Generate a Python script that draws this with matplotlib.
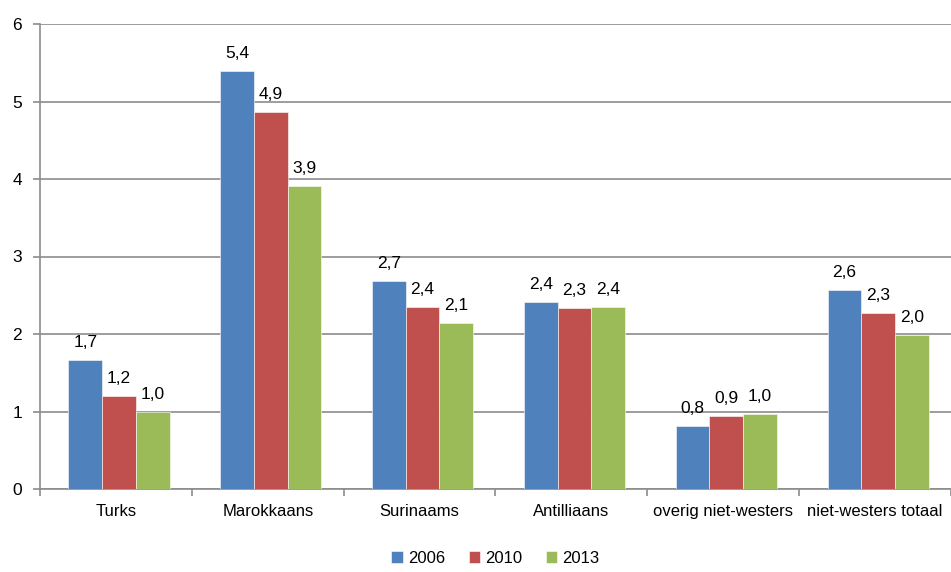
import matplotlib.pyplot as plt
import numpy as np

plt.rcParams['font.family'] = ['Liberation Sans', 'DejaVu Sans']

categories = ["Turks", "Marokkaans", "Surinaams", "Antilliaans",
              "overig niet-westers", "niet-westers totaal"]
years = ["2006", "2010", "2013"]
v2006 = [1.66, 5.39, 2.68, 2.41, 0.81, 2.57]
v2010 = [1.20, 4.86, 2.35, 2.34, 0.94, 2.27]
v2013 = [0.99, 3.91, 2.14, 2.35, 0.97, 1.99]
colors = ["#4f81bd", "#c0504d", "#9bbb59"]

fig = plt.figure(figsize=(9.51, 5.72), dpi=100)
ax = fig.add_axes([40 / 951, 1 - 489 / 572, 911 / 951, 465 / 572])

x = np.arange(len(categories))
w = 0.222
for i, (vals, yr) in enumerate(zip([v2006, v2010, v2013], years)):
    pos = x + 0.02 + (i - 1) * w
    ax.bar(pos, vals, w, color=colors[i], label=yr, zorder=3,
           edgecolor="white", linewidth=0.4)
    for p, v in zip(pos, vals):
        ax.text(p, v + 0.13, f"{v:.1f}".replace(".", ","), ha="center",
                va="bottom", fontsize=12.5)

ax.set_xlim(-0.5, len(categories) - 0.5)
ax.set_ylim(0, 6)
ax.set_yticks(range(7))
ax.yaxis.grid(True, color="#8c8c8c", linewidth=1.2, zorder=0)
ax.set_axisbelow(True)
for s in ["top", "right"]:
    ax.spines[s].set_visible(False)
ax.spines["left"].set_color("#8c8c8c")
ax.spines["bottom"].set_color("#8c8c8c")
ax.spines["left"].set_linewidth(1.2)
ax.spines["bottom"].set_linewidth(1.2)

ax.set_xticks(x)
ax.set_xticklabels(categories, fontsize=12)
ax.tick_params(axis="x", length=0, pad=11)
ax.set_xticks(np.arange(-0.5, len(categories)), minor=True)
ax.tick_params(axis="x", which="minor", length=5, color="#8c8c8c", width=1.2)
ax.tick_params(axis="y", length=5, color="#8c8c8c", width=1.2, labelsize=12.5, pad=8)

ax.legend(loc="upper center", bbox_to_anchor=(0.5, -0.112), ncol=3,
          frameon=False, fontsize=12, handlelength=0.7, handleheight=0.7,
          columnspacing=1.4, handletextpad=0.3, borderaxespad=0.2)

fig.savefig("out.png", dpi=100)
